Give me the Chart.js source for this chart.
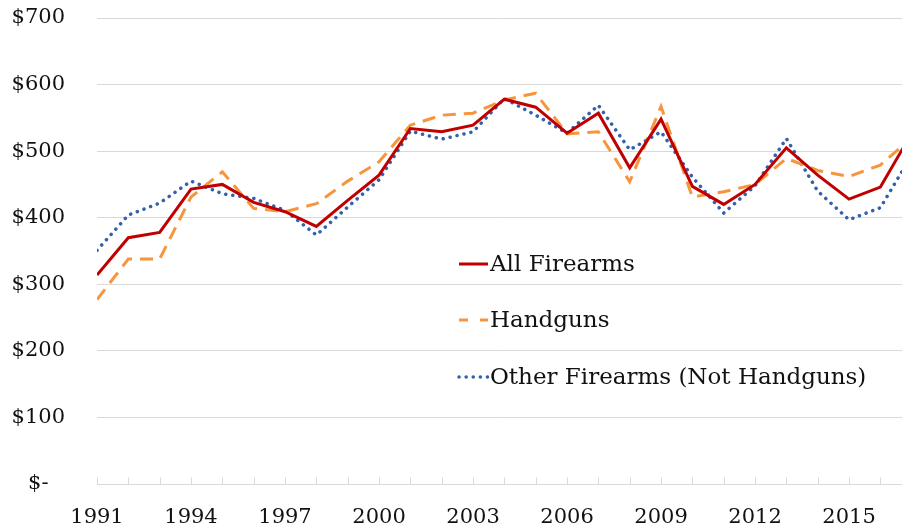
<!DOCTYPE html>
<html>
<head>
<meta charset="utf-8">
<script src="https://cdn.jsdelivr.net/npm/chart.js@4/dist/chart.umd.min.js"></script>
<style>
  html, body { margin: 0; padding: 0; background: #ffffff; overflow: hidden; }
  #wrap { width: 902px; height: 532px; }
</style>
</head>
<body>
<div id="wrap"><canvas id="chart" width="902" height="532"></canvas></div>
<script>
// Average price per firearm, by year
const years = [1991, 1992, 1993, 1994, 1995, 1996, 1997, 1998, 1999, 2000,
               2001, 2002, 2003, 2004, 2005, 2006, 2007, 2008, 2009, 2010,
               2011, 2012, 2013, 2014, 2015, 2016, 2017];
const allFirearms = [314, 370, 378, 443, 450, 423, 409, 387, 426, 464,
                     534, 529, 539, 578, 566, 527, 557, 475, 548, 447,
                     420, 450, 505, 464, 428, 446, 527];
const handguns = [277, 338, 338, 431, 469, 414, 409, 421, 455, 484,
                  539, 554, 557, 577, 587, 526, 529, 454, 567, 431,
                  439, 450, 489, 471, 462, 479, 520];
const otherFirearms = [351, 404, 422, 455, 436, 429, 411, 374, 416, 457,
                       530, 518, 529, 579, 554, 527, 569, 502, 529, 461,
                       407, 448, 519, 440, 397, 415, 494];
const seriesNames = ['All Firearms', 'Handguns', 'Other Firearms (Not Handguns)'];
const yTicks = [0, 100, 200, 300, 400, 500, 600, 700];

const toPoints = vals => vals.map((v, i) => ({ x: years[i], y: v }));

Chart.defaults.font.family = '"DejaVu Serif", "Liberation Serif", serif';
Chart.defaults.color = '#111111';

const GRID = '#d9d9d9';

// short tick marks standing up from the baseline, one per year
const yearTicks = {
  id: 'yearTicks',
  beforeDatasetsDraw(chart) {
    const xs = chart.scales.x, ys = chart.scales.y;
    const ctx = chart.ctx;
    const base = Math.round(ys.getPixelForValue(0)) + 0.5;
    ctx.save();
    ctx.strokeStyle = GRID;
    ctx.lineWidth = 1;
    ctx.beginPath();
    years.forEach(yr => {
      if (yr > xs.max) return;
      const px = Math.round(xs.getPixelForValue(yr)) + 0.5;
      ctx.moveTo(px, base);
      ctx.lineTo(px, base - 7);
    });
    ctx.stroke();
    ctx.restore();
  }
};

// legend drawn inside the plot area
const innerLegend = {
  id: 'innerLegend',
  afterDraw(chart) {
    const ctx = chart.ctx;
    const rows = [264, 320, 377];
    const x0 = 459, x1 = 488;
    ctx.save();
    chart.data.datasets.forEach((ds, i) => {
      const y = rows[i];
      ctx.strokeStyle = ds.borderColor;
      ctx.lineWidth = ds.borderWidth;
      ctx.lineCap = ds.borderCapStyle || 'butt';
      ctx.setLineDash(ds.legendDash || []);
      ctx.beginPath();
      ctx.moveTo(x0, y);
      ctx.lineTo(x1, y);
      ctx.stroke();
      ctx.setLineDash([]);
      ctx.fillStyle = '#111111';
      ctx.font = '23px "DejaVu Serif", "Liberation Serif", serif';
      ctx.textAlign = 'left';
      ctx.textBaseline = 'middle';
      ctx.fillText(ds.label, 490, y + 1);
    });
    ctx.restore();
  }
};

new Chart(document.getElementById('chart'), {
  type: 'line',
  data: {
    datasets: [
      {
        label: seriesNames[0],
        data: toPoints(allFirearms),
        borderColor: '#C00000',
        borderWidth: 3,
        borderCapStyle: 'butt',
        borderJoinStyle: 'miter',
        legendDash: []
      },
      {
        label: seriesNames[1],
        data: toPoints(handguns),
        borderColor: '#F8953C',
        borderWidth: 3,
        borderDash: [13, 8],
        borderCapStyle: 'butt',
        legendDash: [9, 12]
      },
      {
        label: seriesNames[2],
        data: toPoints(otherFirearms),
        borderColor: '#3461AB',
        borderWidth: 3.5,
        borderDash: [0.1, 7],
        borderCapStyle: 'round',
        legendDash: [0.1, 7]
      }
    ]
  },
  options: {
    responsive: false,
    animation: false,
    devicePixelRatio: 1,
    layout: { padding: { top: 18, left: 0, right: 0, bottom: 0 } },
    elements: {
      point: { radius: 0, hoverRadius: 0 },
      line: { tension: 0, fill: false }
    },
    plugins: {
      legend: { display: false },
      tooltip: { enabled: false }
    },
    scales: {
      x: {
        type: 'linear',
        min: 1991,
        max: 2016.69,
        grid: { display: false, drawTicks: false },
        border: { display: false },
        afterBuildTicks(scale) {
          scale.ticks = years.filter(v => v <= scale.max).map(v => ({ value: v }));
        },
        afterFit(scale) {
          scale.height = 48;
          scale.paddingLeft = 0;
          scale.paddingRight = 0;
        },
        ticks: {
          autoSkip: false,
          maxRotation: 0,
          minRotation: 0,
          padding: 21,
          font: { size: 21 },
          color: '#111111',
          callback: v => ((v - years[0]) % 3 === 0 ? String(v) : '')
        }
      },
      y: {
        min: 0,
        max: 700,
        afterBuildTicks(scale) {
          scale.ticks = yTicks.map(v => ({ value: v }));
        },
        afterFit(scale) {
          scale.width = 97;
          scale.paddingTop = 0;
          scale.paddingBottom = 0;
        },
        grid: { color: GRID, lineWidth: 1, drawTicks: false },
        border: { display: false },
        ticks: {
          padding: 32,
          crossAlign: 'center',
          font: { size: 21 },
          color: '#111111',
          callback: v => (v === 0 ? '$-' : '$' + v)
        }
      }
    }
  },
  plugins: [yearTicks, innerLegend]
});
</script>
</body>
</html>
